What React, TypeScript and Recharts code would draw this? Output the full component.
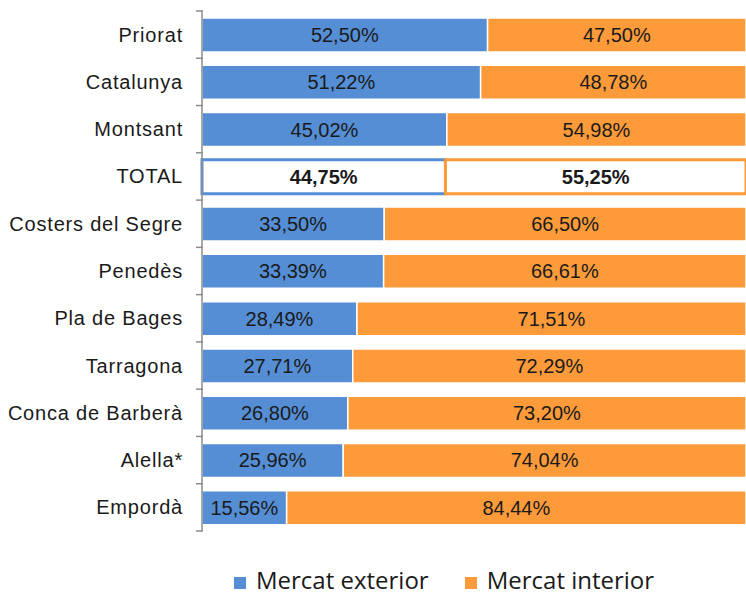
import { BarChart, Bar, XAxis, YAxis, Cell, LabelList } from 'recharts';

const categories = ['Priorat', 'Catalunya', 'Montsant', 'TOTAL', 'Costers del Segre', 'Penedès', 'Pla de Bages', 'Tarragona', 'Conca de Barberà', 'Alella*', 'Empordà'];
const exterior = [52.5, 51.22, 45.02, 44.75, 33.5, 33.39, 28.49, 27.71, 26.8, 25.96, 15.56];
const interior = [47.5, 48.78, 54.98, 55.25, 66.5, 66.61, 71.51, 72.29, 73.2, 74.04, 84.44];

const BLUE = '#558ed5';
const ORANGE = '#fd9a3a';
const W = 746;
const H = 595;
const TOP = 11;
const BOTTOM = 64;
const BAND = (H - TOP - BOTTOM) / categories.length;

const data = categories.map((name, i) => ({ name, exterior: exterior[i], interior: interior[i] }));

const fmt = (v: number) => v.toFixed(2).replace('.', ',') + '%';

const CategoryTick = (props: any) => {
  const { x, y, payload, index } = props;
  const top = y - BAND / 2;
  return (
    <g>
      <line x1={x + 2} x2={x + 9} y1={top} y2={top} stroke="#8c8c8c" strokeWidth={1.5} />
      {index === categories.length - 1 && (
        <line x1={x + 2} x2={x + 9} y1={top + BAND} y2={top + BAND} stroke="#8c8c8c" strokeWidth={1.5} />
      )}
      <text x={x - 11} y={y} dy={7} textAnchor="end" fontSize={20} fill="#1a1a1a" fontFamily="Liberation Sans, Arial, sans-serif" letterSpacing={0.8}>
        {payload.value}
      </text>
    </g>
  );
};

const ValueLabel = (props: any) => {
  const { x, y, width, height, value, index } = props;
  const isTotal = categories[index] === 'TOTAL';
  return (
    <text
      x={x + width / 2}
      y={y + height / 2}
      dy={7}
      textAnchor="middle"
      fontSize={20}
      fontWeight={isTotal ? 'bold' : 'normal'}
      fill="#1a1a1a"
      fontFamily="Liberation Sans, Arial, sans-serif"
    >
      {fmt(value)}
    </text>
  );
};

const LegendBox = () => (
  <div style={{ position: 'absolute', left: 234, top: 565, height: 30, display: 'flex', alignItems: 'center', fontFamily: 'Open Sans, sans-serif', fontSize: 24, lineHeight: '30px', color: '#1a1a1a', whiteSpace: 'nowrap' }}>
    <span style={{ display: 'inline-block', width: 12, height: 12, background: BLUE, marginRight: 10, marginTop: 6 }} />
    <span style={{ marginRight: 36 }}>Mercat exterior</span>
    <span style={{ display: 'inline-block', width: 12, height: 12, background: ORANGE, marginRight: 10, marginTop: 6 }} />
    <span>Mercat interior</span>
  </div>
);

export default function App() {
  return (
    <div style={{ position: 'absolute', left: 0, top: 0, width: W, height: H, background: '#fff', overflow: 'hidden' }}>
      <BarChart
        width={W}
        height={H}
        data={data}
        layout="vertical"
        margin={{ top: TOP, right: 0, left: 0, bottom: BOTTOM }}
      >
        <XAxis type="number" domain={[0, 100]} hide />
        <YAxis
          type="category"
          dataKey="name"
          width={202}
          axisLine={{ stroke: '#8c8c8c', strokeWidth: 1.5 }}
          tickLine={false}
          tick={<CategoryTick />}
          interval={0}
        />
        <Bar dataKey="exterior" stackId="a" fill={BLUE} barSize={34} isAnimationActive={false}>
          {data.map((d, i) => (
            <Cell key={`e-${i}`} fill={d.name === 'TOTAL' ? '#fff' : BLUE} stroke={d.name === 'TOTAL' ? BLUE : '#fff'} strokeWidth={d.name === 'TOTAL' ? 3 : 1.5} />
          ))}
          <LabelList dataKey="exterior" content={<ValueLabel />} />
        </Bar>
        <Bar dataKey="interior" stackId="a" fill={ORANGE} barSize={34} isAnimationActive={false}>
          {data.map((d, i) => (
            <Cell key={`i-${i}`} fill={d.name === 'TOTAL' ? '#fff' : ORANGE} stroke={d.name === 'TOTAL' ? ORANGE : '#fff'} strokeWidth={d.name === 'TOTAL' ? 3 : 1.5} />
          ))}
          <LabelList dataKey="interior" content={<ValueLabel />} />
        </Bar>
      </BarChart>
      <LegendBox />
    </div>
  );
}
